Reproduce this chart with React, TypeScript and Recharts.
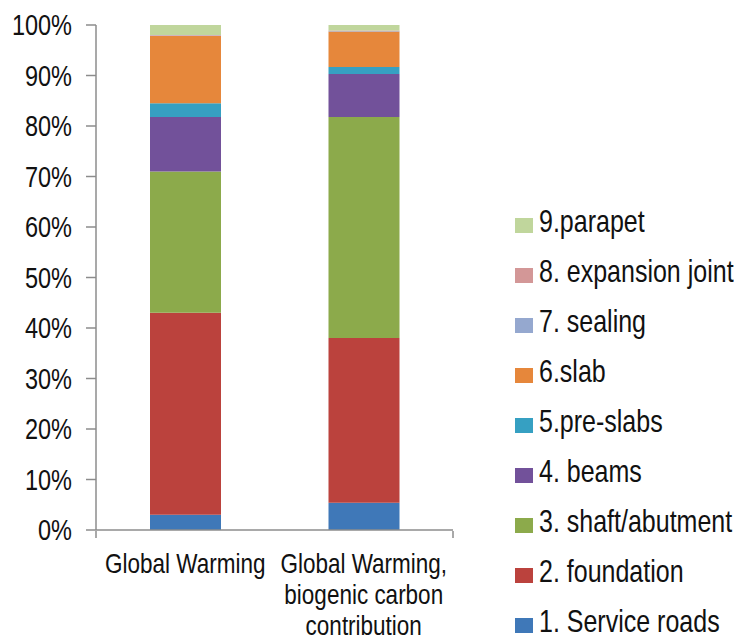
import React from 'react';
import { BarChart, Bar, XAxis, YAxis, Legend } from 'recharts';

const categories = ['Global Warming', 'Global Warming, biogenic carbon contribution'];
const categoryLines = [['Global Warming'], ['Global Warming,', 'biogenic carbon', 'contribution']];

const serviceRoads = [3.0, 5.4];
const foundation = [40.0, 32.6];
const shaftAbutment = [28.0, 43.8];
const beams = [10.8, 8.5];
const preSlabs = [2.7, 1.4];
const slab = [13.3, 7.0];
const sealing = [0.1, 0.1];
const expansionJoint = [0.1, 0.1];
const parapet = [2.0, 1.1];

const yTicks = [0, 10, 20, 30, 40, 50, 60, 70, 80, 90, 100];
const boundaryTicks = [0, 1, 2];

const seriesNames = [
  '1. Service roads',
  '2. foundation',
  '3. shaft/abutment',
  '4. beams',
  '5.pre-slabs',
  '6.slab',
  '7. sealing',
  '8. expansion joint',
  '9.parapet',
];
const seriesValues = [serviceRoads, foundation, shaftAbutment, beams, preSlabs, slab, sealing, expansionJoint, parapet];
const seriesColors = ['#3f78b8', '#bb423d', '#8caa4b', '#72519a', '#36a0c2', '#e6873b', '#95a8cf', '#d39797', '#c0d69c'];
const keys = seriesNames.map((_, i) => `s${i + 1}`);

const data = categories.map((c, ci) => {
  const row: Record<string, string | number> = { name: c, idx: ci };
  seriesValues.forEach((arr, si) => {
    row[keys[si]] = arr[ci];
  });
  return row;
});

const FONT = '"Liberation Sans", Arial, sans-serif';
const STRETCH = 1.25;

const YTick = (props: any) => {
  const { x, y, payload } = props;
  return (
    <g transform={`translate(${x},${y}) scale(1,${STRETCH})`}>
      <text x={0} y={0} dy="0.355em" textAnchor="end" fontSize={23.5} fontFamily={FONT} fill="#111">
        {`${payload.value}%`}
      </text>
    </g>
  );
};

const XTick = (props: any) => {
  const { x, y, payload } = props;
  const lines = categoryLines[payload.index] || [String(payload.value)];
  return (
    <g transform={`translate(${x},${y}) scale(1,${STRETCH})`}>
      <text x={0} y={0} textAnchor="middle" fontSize={22.5} fontFamily={FONT} fill="#111">
        {lines.map((l, i) => (
          <tspan key={i} x={0} dy={i === 0 ? 34.4 : 24.8}>
            {l}
          </tspan>
        ))}
      </text>
    </g>
  );
};

const LegendContent = () => {
  const order = seriesNames.map((_, i) => i).reverse();
  return (
    <div style={{ fontFamily: FONT }}>
      {order.map((i) => (
        <div key={i} style={{ height: 50, display: 'flex', alignItems: 'center', position: 'relative' }}>
          <div style={{ width: 18, height: 15, background: seriesColors[i], marginTop: 9, flex: 'none' }} />
          <span
            style={{
              marginLeft: 6,
              fontSize: 25,
              color: '#111',
              display: 'inline-block',
              transform: `scaleY(${STRETCH})`,
              whiteSpace: 'nowrap',
              lineHeight: '25px',
            }}
          >
            {seriesNames[i]}
          </span>
        </div>
      ))}
    </div>
  );
};

export default function App() {
  return (
    <div style={{ position: 'absolute', left: 0, top: 0, background: '#fff' }}>
      <BarChart
        width={740}
        height={641}
        data={data}
        margin={{ top: 25, right: 287, bottom: 109, left: 0 }}
        barSize={71}
      >
        <XAxis
          xAxisId="cat"
          dataKey="name"
          type="category"
          height={1}
          tickLine={false}
          tickSize={0}
          tickMargin={0}
          interval={0}
          axisLine={{ stroke: '#8c8c8c', strokeWidth: 1.5 }}
          tick={<XTick />}
        />
        <XAxis
          xAxisId="grid"
          type="number"
          domain={[0, 2]}
          ticks={boundaryTicks}
          tickFormatter={() => ''}
          tickSize={7}
          tickLine={{ stroke: '#8c8c8c', strokeWidth: 1.5 }}
          axisLine={false}
          height={1}
        />
        <YAxis
          type="number"
          domain={[0, 100]}
          ticks={yTicks}
          width={96}
          tickSize={10}
          tickMargin={14}
          interval={0}
          axisLine={{ stroke: '#8c8c8c', strokeWidth: 1.5 }}
          tickLine={{ stroke: '#8c8c8c', strokeWidth: 1.5 }}
          tick={<YTick />}
        />
        <Legend
          layout="vertical"
          align="center"
          verticalAlign="middle"
          wrapperStyle={{ left: 515, top: 196, width: 225 }}
          content={<LegendContent />}
        />
        {keys.map((k, i) => (
          <Bar
            key={k}
            dataKey={k}
            name={seriesNames[i]}
            stackId="a"
            xAxisId="cat"
            fill={seriesColors[i]}
            isAnimationActive={false}
          />
        ))}
      </BarChart>
    </div>
  );
}
